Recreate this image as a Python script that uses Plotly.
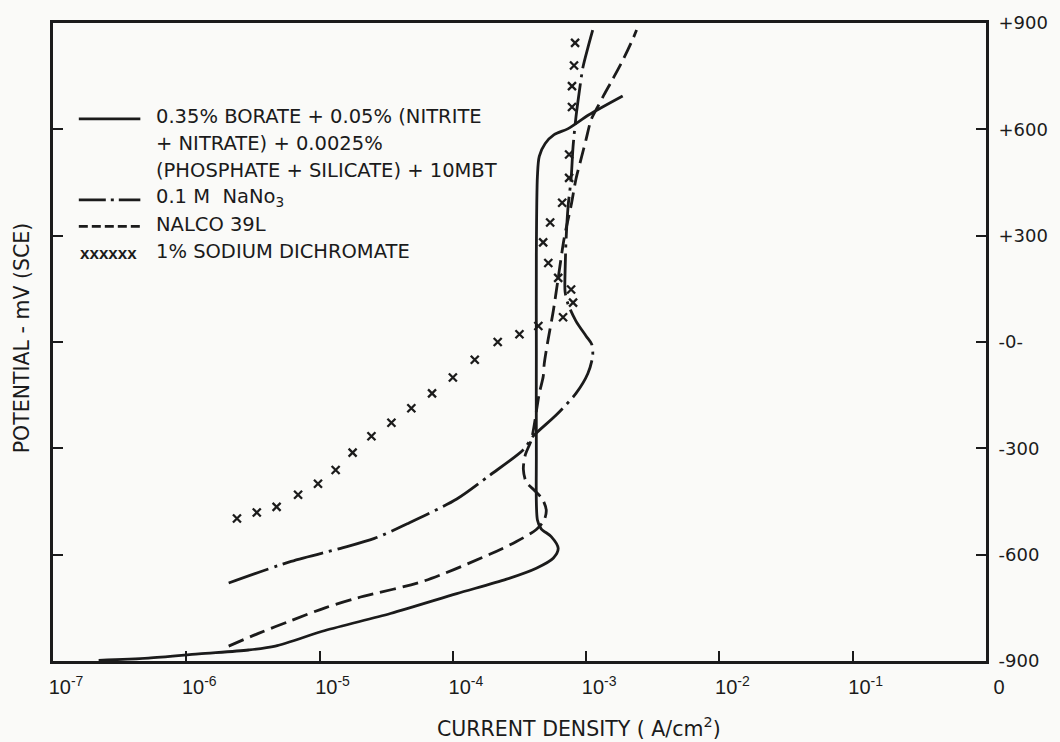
import plotly.graph_objects as go

# ---- Polarization data: current density (A/cm^2) vs potential (mV vs SCE) ----
borate_i = [2.2e-7, 5.2e-7, 1.24e-6, 2.93e-6, 4.66e-6, 1.10e-5, 3.40e-5, 1.07e-4,
            2.53e-4, 4.23e-4, 5.66e-4, 6.17e-4, 5.47e-4, 4.60e-4, 4.31e-4, 4.23e-4,
            4.23e-4, 4.23e-4, 4.31e-4, 4.45e-4, 4.93e-4, 5.75e-4, 7.33e-4, 1.05e-3, 1.88e-3]
borate_e = [-898, -892, -880, -869, -858, -814, -766, -710,
            -669, -638, -610, -582, -549, -527, -502, -312,
            -33, 245, 468, 524, 560, 585, 602, 641, 694]

nitrate_i = [2.08e-6, 6.12e-6, 1.44e-5, 2.58e-5, 4.55e-5, 1.07e-4, 1.89e-4, 3.38e-4,
             4.02e-4, 5.96e-4, 8.39e-4, 1.03e-3, 1.12e-3, 1.10e-3, 9.98e-4, 8.39e-4,
             7.33e-4, 6.95e-4, 6.95e-4, 7.08e-4, 7.33e-4, 7.71e-4, 7.98e-4, 8.39e-4,
             8.83e-4, 9.46e-4, 1.03e-3, 1.12e-3]
nitrate_e = [-680, -619, -582, -554, -513, -443, -376, -304,
             -265, -206, -145, -89, -39, -6, 17, 59,
             106, 142, 198, 293, 385, 460, 552, 635,
             699, 775, 830, 880]

nalco_i = [2.08e-6, 3.48e-6, 6.12e-6, 1.10e-5, 1.93e-5, 6.10e-5, 1.89e-4, 3.00e-4,
           4.23e-4, 4.85e-4, 5.02e-4, 4.69e-4, 4.08e-4, 3.56e-4, 3.38e-4, 3.50e-4,
           3.88e-4, 4.45e-4, 4.76e-4, 4.85e-4, 5.19e-4, 5.66e-4, 6.27e-4, 6.84e-4,
           7.71e-4, 8.39e-4, 9.14e-4, 9.98e-4, 1.09e-3, 1.22e-3, 1.36e-3, 1.58e-3,
           1.88e-3, 2.23e-3, 2.39e-3]
nalco_e = [-858, -822, -786, -750, -722, -674, -599, -563,
           -529, -502, -474, -443, -418, -396, -359, -318,
           -276, -145, -98, -61, 8, 86, 198, 293,
           385, 460, 515, 571, 627, 663, 697, 741,
           794, 853, 880]

dichromate_i = [2.40e-6, 3.38e-6, 4.76e-6, 6.90e-6, 9.73e-6, 1.32e-5, 1.77e-5, 2.45e-5,
                3.46e-5, 4.88e-5, 6.98e-5, 1.00e-4, 1.46e-4, 2.17e-4, 3.16e-4, 4.38e-4,
                6.71e-4, 7.98e-4, 7.71e-4, 6.17e-4, 5.20e-4, 4.76e-4, 5.37e-4, 6.61e-4,
                7.45e-4, 7.45e-4, 7.83e-4, 7.83e-4, 8.11e-4, 8.26e-4]
dichromate_e = [-498, -481, -465, -431, -400, -361, -312, -266,
                -228, -187, -145, -100, -50, 0, 22, 45,
                70, 111, 148, 181, 223, 281, 337, 393,
                463, 529, 663, 722, 780, 844]

x_tick_vals = [1e-7, 1e-6, 1e-5, 1e-4, 1e-3, 1e-2, 1e-1, 1]
x_tick_text = ["10<sup>-7</sup>", "10<sup>-6</sup>", "10<sup>-5</sup>", "10<sup>-4</sup>",
               "10<sup>-3</sup>", "10<sup>-2</sup>", "10<sup>-1</sup>", "0"]
y_tick_vals = [900, 600, 300, 0, -300, -600, -900]
y_tick_text = ["+900", "+600", "+300", "-0-", "-300", "-600", "-900"]

legend_labels = [
    ["0.35% BORATE + 0.05% (NITRITE", "+ NITRATE) + 0.0025%", "(PHOSPHATE + SILICATE) + 10MBT"],
    ["0.1 M  NaNo<sub>3</sub>"],
    ["NALCO 39L"],
    ["1% SODIUM DICHROMATE"],
]

INK = "#1b1b1b"
FONT = "DejaVu Sans"
NUM_FONT = "Liberation Sans"
W, H = 1060, 742
L, R, T, B = 53, 67, 15, 81
PW, PH = W - L - R, H - T - B

DASHDOT = "42px,6px,3px,6px"
DASHED = "16px,7px"


def px(x):
    return (x - L) / PW


def py(y):
    return (H - B - y) / PH


fig = go.Figure()
line_w = 2.8
fig.add_trace(go.Scatter(x=borate_i, y=borate_e, mode="lines",
                         line=dict(color=INK, width=line_w, shape="spline", smoothing=0.8)))
fig.add_trace(go.Scatter(x=nitrate_i, y=nitrate_e, mode="lines",
                         line=dict(color=INK, width=line_w, dash=DASHDOT,
                                   shape="spline", smoothing=0.8)))
fig.add_trace(go.Scatter(x=nalco_i, y=nalco_e, mode="lines",
                         line=dict(color=INK, width=line_w, dash=DASHED,
                                   shape="spline", smoothing=0.8)))
fig.add_trace(go.Scatter(x=dichromate_i, y=dichromate_e, mode="markers",
                         marker=dict(symbol="x-thin", size=8, color=INK,
                                     line=dict(color=INK, width=2.3))))

# legend block drawn inside the plot area
shapes = []
annos = []
rows_y = [110, 137, 164, 192, 219, 246]
sample_dash = ["solid", "27px,5px,3px,5px", "9px,4px"]
row = 0
for k, lines in enumerate(legend_labels):
    y0 = rows_y[row]
    if k < 3:
        shapes.append(dict(type="line", xref="paper", yref="paper",
                           x0=px(79), x1=px(141), y0=py(y0 + 2), y1=py(y0 + 2),
                           line=dict(color=INK, width=line_w, dash=sample_dash[k])))
    else:
        annos.append(dict(text="<b>xxxxxx</b>", xref="paper", yref="paper",
                          x=px(78), y=py(y0 + 2), xanchor="left", yanchor="middle",
                          showarrow=False, font=dict(family=NUM_FONT, size=17, color=INK)))
    for ln in lines:
        annos.append(dict(text=ln, xref="paper", yref="paper", x=px(155), y=py(rows_y[row]),
                          xanchor="left", yanchor="middle", showarrow=False,
                          font=dict(family=FONT, size=19.5, color=INK)))
        row += 1

annos.append(dict(text="POTENTIAL - mV (SCE)", xref="paper", yref="paper",
                  x=px(22), y=py(334), textangle=-90, showarrow=False,
                  xanchor="center", yanchor="middle",
                  font=dict(family=FONT, size=20.5, color=INK)))
annos.append(dict(text="CURRENT DENSITY ( A/cm<sup>2</sup>)", xref="paper", yref="paper",
                  x=px(583), y=py(728), showarrow=False, xanchor="center", yanchor="middle",
                  font=dict(family=FONT, size=20.5, color=INK)))

fig.update_layout(
    width=W, height=H, autosize=False,
    margin=dict(l=L, r=R, t=T, b=B),
    paper_bgcolor="#fafaf8", plot_bgcolor="#fafaf8",
    showlegend=False,
    shapes=shapes, annotations=annos,
    font=dict(family=FONT, size=18, color=INK),
)
fig.update_xaxes(type="log", range=[-7, 0], tickvals=x_tick_vals, ticktext=x_tick_text,
                 ticks="inside", ticklen=10, tickwidth=1.8, tickcolor=INK,
                 showline=True, linecolor=INK, linewidth=2.8, mirror=True,
                 showgrid=False, zeroline=False, ticklabelshift=13, ticklabelstandoff=6,
                 tickfont=dict(family=NUM_FONT, size=20, color=INK))
fig.update_yaxes(range=[-900, 900], side="right", tickvals=y_tick_vals, ticktext=y_tick_text,
                 ticks="inside", ticklen=10, tickwidth=1.8, tickcolor=INK,
                 showline=True, linecolor=INK, linewidth=2.8, mirror="ticks",
                 showgrid=False, zeroline=False, ticklabelstandoff=6,
                 tickfont=dict(family=FONT, size=18, color=INK))

fig.write_html("out.html")
